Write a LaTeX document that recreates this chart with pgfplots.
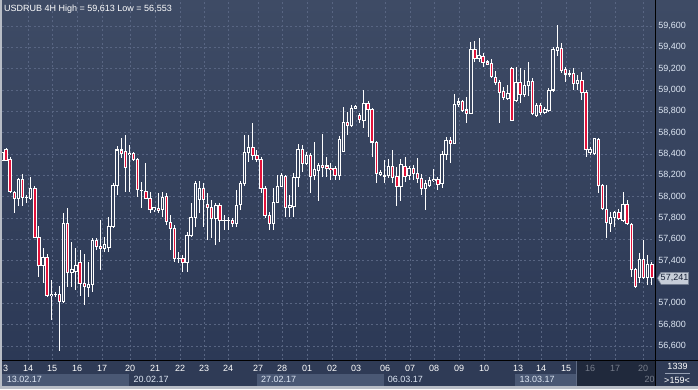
\documentclass[border=0pt]{standalone}
\usepackage{pgfplots}
\pgfplotsset{compat=1.18}
\usepackage{pgfplotstable}
\usepackage{fontspec}
\setmainfont{Liberation Sans}

\definecolor{plottop}{RGB}{62,75,101}
\definecolor{plotbot}{RGB}{44,57,86}
\definecolor{gridc}{RGB}{88,101,130}
\definecolor{rowbg}{RGB}{47,59,86}
\definecolor{boxlight}{RGB}{74,88,116}
\definecolor{bordc}{RGB}{184,189,198}
\definecolor{candred}{RGB}{226,18,58}
\definecolor{labc}{RGB}{222,231,244}
\definecolor{dimc}{RGB}{170,180,200}
\definecolor{bgA}{RGB}{59,72,98}
\definecolor{bgB}{RGB}{56,69,96}
\definecolor{bgC}{RGB}{53,66,93}
\definecolor{bgD}{RGB}{48,61,90}
\definecolor{tagfill}{RGB}{198,205,216}
\definecolor{tagdraw}{RGB}{120,130,148}
\definecolor{tagtext}{RGB}{22,32,54}
\definecolor{sepc}{RGB}{95,107,132}
\definecolor{ulc}{RGB}{150,160,180}

\newcommand{\tickfont}{\fontsize{9}{10}\selectfont}

\pgfplotstableread{
k O H L C
0 58.344 58.456 58.269 58.419
1 58.447 58.456 58.334 58.344
2 58.344 58.372 58.034 58.044
3 58.044 58.053 57.847 57.988
4 57.988 58.175 57.913 58.166
5 58.166 58.213 57.913 57.997
6 57.997 58.016 57.941 57.992
7 57.988 58.184 57.969 58.081
8 58.081 58.100 57.613 57.622
9 57.622 57.725 57.247 57.359
10 57.359 57.519 57.191 57.434
11 57.434 57.463 57.059 57.078
12 57.078 57.219 56.844 57.088
13 57.088 57.106 57.059 57.083
14 57.088 57.163 56.553 57.022
15 57.022 57.847 57.003 57.753
16 57.753 57.894 57.153 57.294
17 57.294 57.575 57.153 57.322
18 57.303 57.519 57.125 57.359
19 57.388 57.500 57.069 57.191
20 57.191 57.463 56.984 57.163
21 57.153 57.388 57.059 57.181
22 57.181 57.613 57.106 57.594
23 57.594 57.613 57.500 57.538
24 57.538 57.781 57.313 57.519
25 57.519 57.622 57.481 57.556
26 57.519 57.809 57.481 57.725
27 57.725 58.128 57.706 58.109
28 58.109 58.475 58.016 58.438
29 58.438 58.550 58.363 58.409
30 58.428 58.578 58.044 58.278
31 58.391 58.484 58.044 58.409
32 58.409 58.419 58.334 58.353
33 58.353 58.363 57.997 58.063
34 58.063 58.138 57.894 58.058
35 58.053 58.316 57.978 57.988
36 57.988 58.044 57.847 57.884
37 57.884 57.903 57.856 57.894
38 57.894 58.034 57.847 57.875
39 57.884 58.044 57.809 57.997
40 57.997 58.034 57.734 57.763
41 57.763 57.828 57.500 57.706
42 57.706 57.734 57.388 57.425
43 57.425 57.481 57.378 57.420
44 57.425 57.453 57.294 57.388
45 57.388 57.669 57.294 57.641
46 57.641 57.941 57.622 57.809
47 57.809 58.147 57.716 58.128
48 57.969 58.147 57.847 58.081
49 58.081 58.128 57.716 57.969
50 57.931 58.034 57.594 57.903
51 57.903 57.969 57.613 57.800
52 57.800 57.941 57.547 57.922
53 57.922 57.941 57.575 57.781
54 57.781 57.828 57.688 57.777
55 57.777 57.809 57.688 57.781
56 57.781 57.800 57.716 57.753
57 57.753 58.063 57.716 57.922
58 57.922 58.147 57.875 58.128
59 58.128 58.578 58.100 58.419
60 58.419 58.578 58.325 58.466
61 58.466 58.691 58.344 58.391
62 58.391 58.438 58.325 58.353
63 58.353 58.372 58.034 58.081
64 58.081 58.100 57.800 57.819
65 57.828 57.856 57.688 57.753
66 57.753 58.081 57.688 57.950
67 57.950 58.203 57.941 58.100
68 58.100 58.222 58.091 58.194
69 58.194 58.203 57.809 57.903
70 57.903 58.016 57.809 57.922
71 57.913 58.222 57.809 58.184
72 58.184 58.494 58.091 58.447
73 58.447 58.484 58.231 58.316
74 58.316 58.419 58.297 58.391
75 58.391 58.409 58.034 58.194
76 58.203 58.513 58.156 58.259
77 58.250 58.316 57.959 58.297
78 58.297 58.588 58.184 58.278
79 58.288 58.372 58.184 58.269
80 58.269 58.316 58.156 58.259
81 58.269 58.288 58.156 58.203
82 58.203 58.569 58.156 58.541
83 58.428 58.841 58.419 58.700
84 58.700 58.794 58.578 58.672
85 58.672 58.859 58.653 58.831
86 58.831 58.859 58.822 58.850
87 58.766 58.784 58.691 58.728
88 58.719 59.000 58.644 58.878
89 58.878 58.897 58.559 58.822
90 58.822 58.831 58.372 58.513
91 58.513 58.522 58.128 58.222
92 58.213 58.250 58.194 58.231
93 58.203 58.344 58.128 58.194
94 58.203 58.353 58.175 58.288
95 58.288 58.438 58.128 58.184
96 58.184 58.278 57.913 58.091
97 58.091 58.353 57.959 58.297
98 58.288 58.372 58.138 58.194
99 58.203 58.288 58.156 58.269
100 58.269 58.297 58.156 58.222
101 58.222 58.363 58.128 58.175
102 58.175 58.213 58.016 58.081
103 58.081 58.156 57.875 58.128
104 58.109 58.184 58.091 58.156
105 58.156 58.259 58.138 58.166
106 58.166 58.184 58.063 58.119
107 58.119 58.428 58.081 58.391
108 58.391 58.559 58.344 58.531
109 58.531 58.559 58.316 58.503
110 58.503 58.963 58.494 58.869
111 58.869 58.925 58.841 58.888
112 58.888 58.906 58.794 58.803
113 58.813 58.934 58.691 58.784
114 58.784 59.450 58.775 59.384
115 59.384 59.459 59.263 59.300
116 59.300 59.488 59.263 59.328
117 59.319 59.347 59.216 59.263
118 59.263 59.281 59.234 59.244
119 59.244 59.291 59.113 59.122
120 59.122 59.178 59.047 59.075
121 59.075 59.094 58.691 58.981
122 58.991 59.028 58.906 58.934
123 58.925 59.047 58.906 58.972
124 59.206 59.216 58.709 58.719
125 58.906 59.216 58.888 59.075
126 59.075 59.206 58.878 58.963
127 58.963 59.188 58.934 59.047
128 59.047 59.263 58.944 59.084
129 59.084 59.113 58.766 58.784
130 58.766 58.878 58.747 58.859
131 58.859 58.878 58.766 58.794
132 58.794 58.841 58.775 58.822
133 58.813 59.019 58.794 59.000
134 59.000 59.403 58.981 59.384
135 59.366 59.613 59.319 59.394
136 59.394 59.441 59.159 59.188
137 59.188 59.216 59.075 59.150
138 59.150 59.188 59.122 59.159
139 59.159 59.206 59.000 59.066
140 59.066 59.141 59.000 59.094
141 59.094 59.169 58.906 58.981
142 58.981 59.000 58.372 58.447
143 58.419 58.466 58.391 58.447
144 58.409 58.550 58.391 58.541
145 58.541 58.550 58.034 58.109
146 58.109 58.119 57.875 57.894
147 57.884 58.109 57.613 57.763
148 57.753 57.856 57.669 57.809
149 57.809 57.866 57.716 57.847
150 57.847 57.884 57.781 57.791
151 57.781 58.044 57.763 57.931
152 57.931 57.969 57.734 57.753
153 57.744 57.753 57.247 57.322
154 57.322 57.331 57.144 57.163
155 57.247 57.472 57.191 57.416
156 57.416 57.594 57.228 57.247
157 57.247 57.453 57.172 57.369
158 57.369 57.388 57.172 57.241
}\candles

\pgfplotsset{
  candlebar/.style n args={2}{draw=none, mark=none, forget plot,
    error bars/.cd, y dir=both, y explicit, error mark=none,
    error bar style={draw=#1, line width=#2, line cap=butt, solid}},
}

\begin{document}
\begin{tikzpicture}
\useasboundingbox (0pt,0pt) rectangle (698pt,389pt);
% bottom panel and right panel backgrounds
\fill[rowbg] (0pt,0pt) rectangle (698pt,29pt);
\shade[top color=plottop, bottom color=plotbot] (655pt,29pt) rectangle (698pt,389pt);
\fill[boxlight] (2pt,3pt) rectangle (129pt,15pt);
\fill[boxlight] (257pt,3pt) rectangle (384pt,15pt);
\fill[boxlight] (515pt,3pt) rectangle (576pt,15pt);
\node[anchor=north west, inner sep=0pt, text=white, font=\tickfont] at (3pt,24pt) {3};

\begin{axis}[
  at={(2pt,29pt)}, anchor=south west, scale only axis,
  width=653pt, height=360pt,
  xmin=0.024, xmax=158.79, ymin=56.46875, ymax=59.84375,
  axis background/.style={top color=plottop, bottom color=plotbot},
  axis line style={draw=none}, major tick length=0pt,
  grid=major,
  major grid style={gridc, line width=0.8pt, dash pattern=on 2pt off 2.5pt},
  xtick={6.35,12.18,18.26,24.34,31.14,37.22,43.30,49.14,54.97,62.27,68.10,74.18,80.26,86.09,93.14,99.22,105.06,111.14,117.21,125.48,131.07,137.15,142.98,149.06,155.87},
  xticklabels={14,15,16,17,20,21,22,23,24,27,28,01,02,03,06,07,08,09,10,13,14,15,{\color{dimc}16},{\color{dimc}17},{\color{dimc}20}},
  ytick={56.6,56.8,57.0,57.2,57.4,57.6,57.8,58.0,58.2,58.4,58.6,58.8,59.0,59.2,59.4,59.6},
  yticklabels={56{,}600,56{,}800,57{,}000,,57{,}400,57{,}600,57{,}800,58{,}000,58{,}200,58{,}400,58{,}600,58{,}800,59{,}000,59{,}200,59{,}400,59{,}600},
  yticklabel pos=right,
  yticklabel style={font=\tickfont, text=labc, anchor=west, inner sep=0pt, xshift=3pt},
  xticklabel style={font=\tickfont, text=white, anchor=north, inner sep=0pt, yshift=-5pt},
]
% wicks
\addplot[candlebar={white}{1pt}]
  table[x=k, y expr={(\thisrow{H}+\thisrow{L})/2}, y error expr={(\thisrow{H}-\thisrow{L})/2}] {\candles};
% body outlines
\addplot[candlebar={white}{3.4pt}]
  table[x=k, y expr={(\thisrow{O}+\thisrow{C})/2}, y error expr={abs(\thisrow{O}-\thisrow{C})/2+0.0047}] {\candles};
% bearish fill
\addplot[candlebar={candred}{1.4pt}]
  table[x expr={(\thisrow{O}>\thisrow{C}) ? \thisrow{k} : -1000}, y expr={(\thisrow{O}+\thisrow{C})/2}, y error expr={max(abs(\thisrow{O}-\thisrow{C})/2-0.0047,0)}] {\candles};
% bullish hollow interiors
\addplot[candlebar={bgA}{1.4pt}]
  table[x expr={((\thisrow{C}>=\thisrow{O}) && ((\thisrow{O}+\thisrow{C})/2>=59.0)) ? \thisrow{k} : -1000}, y expr={(\thisrow{O}+\thisrow{C})/2}, y error expr={max(abs(\thisrow{O}-\thisrow{C})/2-0.0047,0)}] {\candles};
\addplot[candlebar={bgB}{1.4pt}]
  table[x expr={((\thisrow{C}>=\thisrow{O}) && ((\thisrow{O}+\thisrow{C})/2<59.0) && ((\thisrow{O}+\thisrow{C})/2>=58.4)) ? \thisrow{k} : -1000}, y expr={(\thisrow{O}+\thisrow{C})/2}, y error expr={max(abs(\thisrow{O}-\thisrow{C})/2-0.0047,0)}] {\candles};
\addplot[candlebar={bgC}{1.4pt}]
  table[x expr={((\thisrow{C}>=\thisrow{O}) && ((\thisrow{O}+\thisrow{C})/2<58.4) && ((\thisrow{O}+\thisrow{C})/2>=57.8)) ? \thisrow{k} : -1000}, y expr={(\thisrow{O}+\thisrow{C})/2}, y error expr={max(abs(\thisrow{O}-\thisrow{C})/2-0.0047,0)}] {\candles};
\addplot[candlebar={bgD}{1.4pt}]
  table[x expr={((\thisrow{C}>=\thisrow{O}) && ((\thisrow{O}+\thisrow{C})/2<57.8)) ? \thisrow{k} : -1000}, y expr={(\thisrow{O}+\thisrow{C})/2}, y error expr={max(abs(\thisrow{O}-\thisrow{C})/2-0.0047,0)}] {\candles};
\end{axis}

% date labels
\node[anchor=base west, inner sep=0pt, text=labc, font=\tickfont] at (6.7pt,6.3pt) {13.02.17};
\node[anchor=base west, inner sep=0pt, text=labc, font=\tickfont] at (133.3pt,6.3pt) {20.02.17};
\node[anchor=base west, inner sep=0pt, text=labc, font=\tickfont] at (261pt,6.3pt) {27.02.17};
\node[anchor=base west, inner sep=0pt, text=labc, font=\tickfont] at (387.7pt,6.3pt) {06.03.17};
\node[anchor=base west, inner sep=0pt, text=labc, font=\tickfont] at (519.3pt,6.3pt) {13.03.17};
\node[anchor=base west, inner sep=0pt, text=dimc, font=\tickfont] at (644.5pt,6.3pt) {20};
% dimmed region of the time scale
\fill[black, opacity=0.3] (576pt,3pt) rectangle (655pt,28pt);
\draw[sepc, line width=1pt] (576.5pt,3pt) -- (576.5pt,28pt);
% right-bottom info box
\fill[rowbg] (656pt,3pt) rectangle (698pt,28pt);
\node[font=\tickfont, text=white, inner sep=0pt] at (677.5pt,22.5pt) {1339};
\draw[ulc, line width=0.8pt] (665pt,15.7pt) -- (690pt,15.7pt);
\node[font=\tickfont, text=white, inner sep=0pt] at (677pt,8.5pt) {>159<};
% frame lines
\draw[black, line width=1pt] (0pt,28.5pt) -- (698pt,28.5pt);
\draw[black, line width=1pt] (655.5pt,0pt) -- (655.5pt,389pt);
% borders
\fill[bordc] (0pt,0pt) rectangle (2pt,389pt);
\fill[bordc] (0pt,0pt) rectangle (698pt,3pt);
% price tag
\filldraw[fill=tagfill, draw=tagdraw, line width=0.6pt] (657.5pt,110.7pt) -- (661pt,116.7pt) -- (688.5pt,116.7pt) -- (688.5pt,104.7pt) -- (661pt,104.7pt) -- cycle;
\node[font=\tickfont, text=tagtext, inner sep=0pt] at (674.5pt,110.7pt) {57,241};
% title
\node[anchor=base west, inner sep=0pt, font=\tickfont, text=white] at (4pt,377.5pt) {USDRUB 4H High = 59,613 Low = 56,553};
\end{tikzpicture}
\end{document}
